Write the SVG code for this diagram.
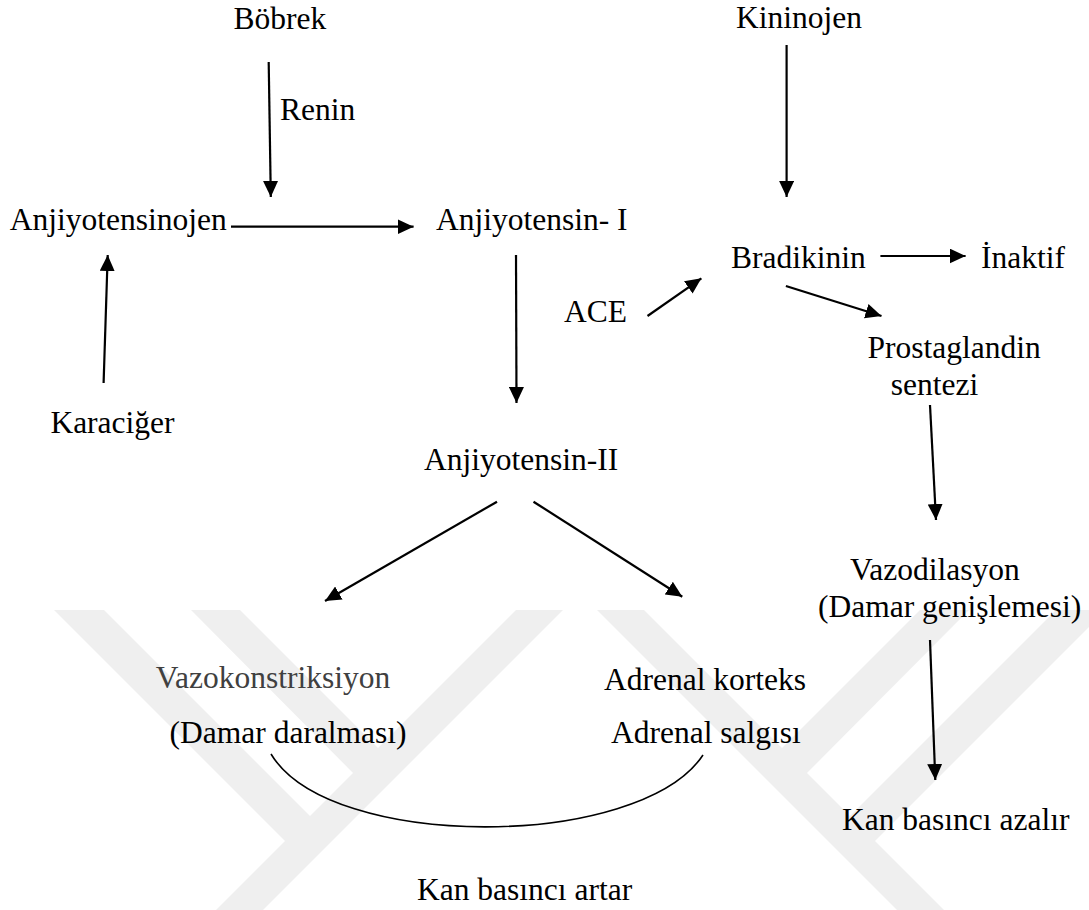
<svg xmlns="http://www.w3.org/2000/svg" width="1089" height="910" viewBox="0 0 1089 910">
<defs>
<style>
.t{font-family:"Liberation Serif","Times New Roman",serif;font-size:31.5px;fill:#000}
.g{fill:#404040}
.c{stroke:#000;stroke-width:2.2;fill:none}
.wm{fill:#efefef}
</style>
<marker id="ah" viewBox="0 0 16 15" refX="16" refY="7.5" markerWidth="16" markerHeight="15" markerUnits="userSpaceOnUse" orient="auto">
<path d="M0,0 L16,7.5 L0,15 z" fill="#000"/>
</marker>
</defs>
<rect width="1089" height="910" fill="#fff"/>
<g id="watermark">
<polygon class="wm" points="54,610 104,610 320,826 295,851"/>
<polygon class="wm" points="191,610 240,610 388,758 363,783"/>
<polygon class="wm" points="516,610 563,610 263,910 216,910"/>
<polygon class="wm" points="1106,610 1056,610 840,826 865,851"/>
<polygon class="wm" points="969,610 920,610 772,758 797,783"/>
<polygon class="wm" points="644,610 597,610 897,910 944,910"/>
</g>
<g id="connectors">
<line class="c" x1="268.7" y1="62" x2="270.8" y2="197" marker-end="url(#ah)"/>
<line class="c" x1="103.6" y1="383" x2="107.7" y2="255" marker-end="url(#ah)"/>
<line class="c" x1="231" y1="226.7" x2="413.6" y2="226.7" marker-end="url(#ah)"/>
<line class="c" x1="516" y1="255" x2="516.5" y2="403" marker-end="url(#ah)"/>
<line class="c" x1="786.6" y1="45" x2="786.6" y2="197" marker-end="url(#ah)"/>
<line class="c" x1="880.4" y1="256" x2="965.6" y2="256" marker-end="url(#ah)"/>
<line class="c" x1="647.5" y1="316" x2="701.4" y2="278.3" marker-end="url(#ah)"/>
<line class="c" x1="785.9" y1="286" x2="881.5" y2="316" marker-end="url(#ah)"/>
<line class="c" x1="930" y1="405" x2="936" y2="520" marker-end="url(#ah)"/>
<line class="c" x1="497" y1="501.7" x2="325" y2="601" marker-end="url(#ah)"/>
<line class="c" x1="533.5" y1="501.7" x2="682.3" y2="596.7" marker-end="url(#ah)"/>
<line class="c" x1="930" y1="640" x2="935.3" y2="780" marker-end="url(#ah)"/>
<path class="c" style="stroke-width:1.6" d="M271,754 C330,852 640,850 703,755"/>
</g>
<g id="n-bobrek"><text class="t" x="233.6" y="28.5">Böbrek</text></g>
<g id="n-kininojen"><text class="t" x="736" y="27.5">Kininojen</text></g>
<g id="n-renin"><text class="t" x="280" y="120">Renin</text></g>
<g id="n-anjiyotensinojen"><text class="t" x="9.7" y="230">Anjiyotensinojen</text></g>
<g id="n-anjiyotensin1"><text class="t" x="436" y="230">Anjiyotensin- I</text></g>
<g id="n-bradikinin"><text class="t" x="731" y="268">Bradikinin</text></g>
<g id="n-inaktif"><text class="t" x="981" y="268">İnaktif</text></g>
<g id="n-ace"><text class="t" x="564" y="321.5">ACE</text></g>
<g id="n-prostaglandin"><text class="t" x="867.6" y="358">Prostaglandin</text><text class="t" x="890.8" y="395">sentezi</text></g>
<g id="n-karaciger"><text class="t" x="50.4" y="433">Karaciğer</text></g>
<g id="n-anjiyotensin2"><text class="t" x="424" y="470">Anjiyotensin-II</text></g>
<g id="n-vazodilasyon"><text class="t" x="850" y="580">Vazodilasyon</text><text class="t" x="818" y="616.7">(Damar genişlemesi)</text></g>
<g id="n-vazokonstriksiyon"><text class="t g" x="155.7" y="688.3">Vazokonstriksiyon</text><text class="t" x="169.6" y="743.3">(Damar daralması)</text></g>
<g id="n-adrenal"><text class="t" x="604" y="690">Adrenal korteks</text><text class="t" x="611" y="743">Adrenal salgısı</text></g>
<g id="n-azalir"><text class="t" x="842" y="830">Kan basıncı azalır</text></g>
<g id="n-artar"><text class="t" x="417" y="900">Kan basıncı artar</text></g>
</svg>
